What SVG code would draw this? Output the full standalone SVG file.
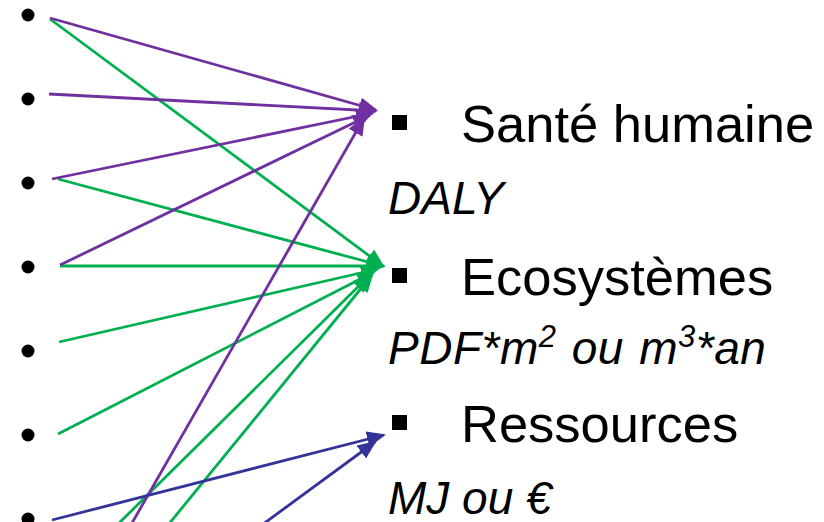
<svg xmlns="http://www.w3.org/2000/svg" width="824" height="522" viewBox="0 0 824 522">
<style>
.dot{fill:#000}
.sq{fill:#000}
.title{font-family:"Liberation Sans",Arial,sans-serif;font-size:52.5px;fill:#000}
.unit{font-family:"Liberation Sans",Arial,sans-serif;font-size:46px;font-style:italic;fill:#000}
.p{stroke:#7030A0;stroke-width:2.8;fill:none;marker-end:url(#ap)}
.g{stroke:#00B050;stroke-width:2.8;fill:none;marker-end:url(#ag)}
.b{stroke:#333399;stroke-width:2.8;fill:none;marker-end:url(#ab)}
</style>
<defs>
<marker id="ap" markerUnits="userSpaceOnUse" markerWidth="20" markerHeight="16" refX="17" refY="8" orient="auto"><path d="M0,0 L19,8 L0,16 z" fill="#7030A0"/></marker>
<marker id="ag" markerUnits="userSpaceOnUse" markerWidth="20" markerHeight="16" refX="17" refY="8" orient="auto"><path d="M0,0 L19,8 L0,16 z" fill="#00B050"/></marker>
<marker id="ab" markerUnits="userSpaceOnUse" markerWidth="20" markerHeight="16" refX="17" refY="8" orient="auto"><path d="M0,0 L19,8 L0,16 z" fill="#333399"/></marker>
</defs>
<rect width="824" height="522" fill="#fff"/>
<g id="sources">
<circle class="dot" cx="28" cy="15" r="6.5"/>
<circle class="dot" cx="28" cy="99" r="6.5"/>
<circle class="dot" cx="28" cy="183" r="6.5"/>
<circle class="dot" cx="28" cy="267" r="6.5"/>
<circle class="dot" cx="28" cy="351" r="6.5"/>
<circle class="dot" cx="28" cy="435" r="6.5"/>
<circle class="dot" cx="28" cy="519" r="6.5"/>
</g>
<g id="connectors">
<line class="g" x1="50" y1="19" x2="383" y2="266"/>
<line class="g" x1="58" y1="179" x2="383" y2="266"/>
<line class="g" x1="60" y1="266" x2="384" y2="266"/>
<line class="g" x1="59" y1="342" x2="378" y2="269"/>
<line class="g" x1="58" y1="434" x2="374" y2="272"/>
<line class="g" x1="112" y1="530" x2="370" y2="275"/>
<line class="g" x1="164" y1="530" x2="372" y2="275"/>
<line class="p" x1="50" y1="18" x2="376" y2="110"/>
<line class="p" x1="49" y1="94" x2="376" y2="111"/>
<line class="p" x1="52" y1="179" x2="373" y2="113"/>
<line class="p" x1="60" y1="265" x2="370" y2="115"/>
<line class="p" x1="128" y1="530" x2="364" y2="118"/>
<line class="b" x1="52" y1="520" x2="384" y2="435"/>
<line class="b" x1="255" y1="530" x2="375" y2="442"/>
</g>
<g id="sante-humaine">
<rect class="sq" x="392" y="115" width="15" height="15"/>
<text class="title" x="461" y="142">Santé humaine</text>
<text class="unit" x="388" y="214">DALY</text>
</g>
<g id="ecosystemes">
<rect class="sq" x="392" y="268" width="15" height="15"/>
<text class="title" x="461" y="295">Ecosystèmes</text>
<text class="unit" x="388" y="364" word-spacing="2" letter-spacing="0.5">PDF*m<tspan font-size="31" dy="-17">2</tspan><tspan dy="17"> ou m</tspan><tspan font-size="31" dy="-17">3</tspan><tspan dy="17">*an</tspan></text>
</g>
<g id="ressources">
<rect class="sq" x="392" y="415" width="15" height="15"/>
<text class="title" x="461" y="442">Ressources</text>
<text class="unit" x="388" y="514">MJ ou €</text>
</g>
</svg>
